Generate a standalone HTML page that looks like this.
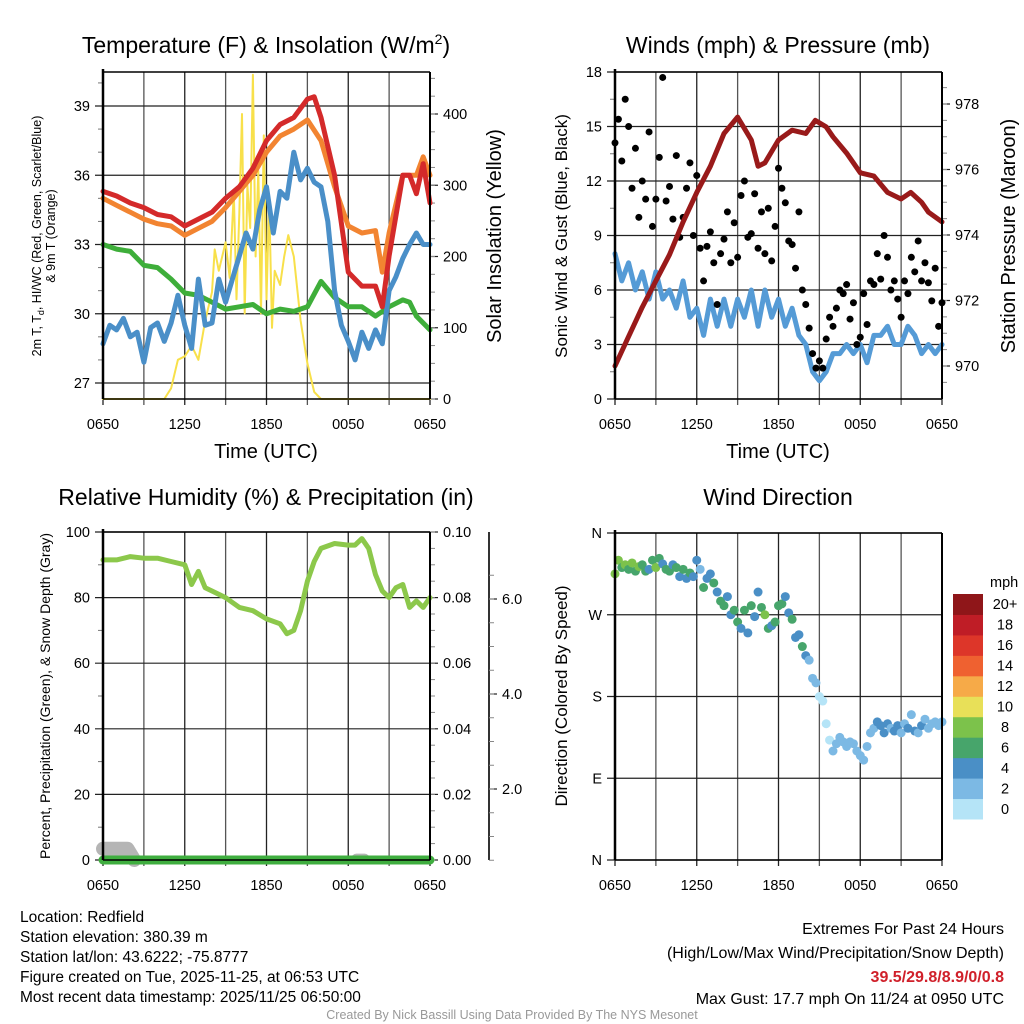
<!DOCTYPE html>
<html><head><meta charset="utf-8">
<style>
html,body{margin:0;padding:0;background:#fff;}
svg{display:block;font-family:"Liberation Sans",sans-serif;}
</style></head>
<body>
<svg id="chart" width="1024" height="1024" viewBox="0 0 1024 1024" xmlns="http://www.w3.org/2000/svg">
<rect width="1024" height="1024" fill="#fff"/>
<g id="g1"></g>
<g id="g2"></g>
<g id="g3"></g>
<g id="g4"></g>

<text x="266" y="53" font-size="23" text-anchor="middle">Temperature (F) &amp; Insolation (W/m<tspan font-size="14" dy="-9">2</tspan><tspan dy="9">)</tspan></text>
<text x="778" y="53" font-size="23" text-anchor="middle">Winds (mph) &amp; Pressure (mb)</text>
<text x="266" y="505" font-size="23" text-anchor="middle">Relative Humidity (%) &amp; Precipitation (in)</text>
<text x="778" y="505" font-size="23" text-anchor="middle">Wind Direction</text>

<text transform="translate(41,236) rotate(-90)" font-size="12.5" text-anchor="middle">2m T, T<tspan font-size="9" dy="3">d</tspan><tspan dy="-3">, HI/WC (Red, Green, Scarlet/Blue)</tspan></text>
<text transform="translate(55,236) rotate(-90)" font-size="12.5" text-anchor="middle">&amp; 9m T (Orange)</text>
<text transform="translate(501,236) rotate(-90)" font-size="20" text-anchor="middle">Solar Insolation (Yellow)</text>
<text transform="translate(567,236) rotate(-90)" font-size="17" text-anchor="middle">Sonic Wind &amp; Gust (Blue, Black)</text>
<text transform="translate(1015,236) rotate(-90)" font-size="20" text-anchor="middle">Station Pressure (Maroon)</text>
<text transform="translate(50,696) rotate(-90)" font-size="14" text-anchor="middle">Percent, Precipitation (Green), &amp; Snow Depth (Gray)</text>
<text transform="translate(567,696) rotate(-90)" font-size="17" text-anchor="middle">Direction (Colored By Speed)</text>
<text x="266" y="458" font-size="20" text-anchor="middle">Time (UTC)</text>
<text x="778" y="458" font-size="20" text-anchor="middle">Time (UTC)</text>

<g font-size="15.5">
<text x="20" y="922">Location: Redfield</text>
<text x="20" y="942">Station elevation: 380.39 m</text>
<text x="20" y="962">Station lat/lon: 43.6222; -75.8777</text>
<text x="20" y="982">Figure created on Tue, 2025-11-25, at 06:53 UTC</text>
<text x="20" y="1002">Most recent data timestamp: 2025/11/25 06:50:00</text>
</g>
<g font-size="16" text-anchor="end">
<text x="1004" y="934">Extremes For Past 24 Hours</text>
<text x="1004" y="958">(High/Low/Max Wind/Precipitation/Snow Depth)</text>
<text x="1004" y="982" fill="#d0202a" font-weight="bold">39.5/29.8/8.9/0/0.8</text>
<text x="1004" y="1004">Max Gust: 17.7 mph On 11/24 at 0950 UTC</text>
</g>
<text x="512" y="1019" font-size="12.5" fill="#999" text-anchor="middle">Created By Nick Bassill Using Data Provided By The NYS Mesonet</text>
</svg>
<script>
// ---- data ----
const xTickLabels = ["0650","1250","1850","0050","0650"];
const tempTicks = [27,30,33,36,39];
const solarTicks = [0,100,200,300,400];
const windTicks = [0,3,6,9,12,15,18];
const presTicks = [970,972,974,976,978];
const rhTicks = [0,20,40,60,80,100];
const precipTicks = ["0.00","0.02","0.04","0.06","0.08","0.10"];
const snowTicks = ["2.0","4.0","6.0"];
const dirTicks = ["N","E","S","W","N"];

const redT = [0,1,2,3,4,5,6,7,8,9,10,11,12,13,14,15,15.5,16,17,18,19,20,20.5,21,22,22.5,23,23.5,24];
const redV = [35.3,35.1,34.8,34.6,34.3,34.2,33.8,34.1,34.4,35.0,35.5,36.3,37.5,38.2,38.5,39.3,39.4,38.5,36.0,31.8,31.2,31.2,30.3,32.5,36.0,36.0,35.2,36.5,34.8];
const orangeT = [0,1,2,3,4,5,6,7,8,9,10,11,12,13,14,15,16,17,18,19,20,20.5,21,22,23,23.5,24];
const orangeV = [35.0,34.7,34.4,34.1,33.9,33.8,33.4,33.7,34.0,34.6,35.3,36.0,37.0,37.7,38.0,38.4,37.5,35.5,33.8,33.5,33.6,31.8,33.5,36.0,36.0,36.8,36.0];
const greenT = [0,1,2,3,4,5,6,7,8,9,10,11,12,13,14,15,16,17,18,19,20,21,22,22.5,23,24];
const greenV = [33.0,32.8,32.7,32.1,32.0,31.5,30.9,30.8,30.5,30.2,30.3,30.4,30.0,30.2,30.1,30.3,31.4,30.7,30.3,30.3,29.9,30.3,30.6,30.5,29.9,29.3];
const blueT = [0,0.5,1,1.5,2,2.5,3,3.5,4,4.5,5,5.5,6,6.5,7,7.5,8,8.5,9,9.5,10,10.5,11,11.5,12,12.5,13,13.5,14,14.5,15,15.5,16,16.5,17,17.5,18,18.5,19,19.5,20,20.5,21,21.5,22,22.5,23,23.5,24];
const blueV = [28.7,29.5,29.3,29.8,29.0,29.2,27.9,29.4,29.6,28.8,29.6,30.8,29.5,28.5,31.5,29.5,29.6,31.5,30.5,31.5,32.5,33.5,32.8,34.5,35.5,33.5,35.3,35.0,37.0,35.8,36.3,35.7,35.5,34.0,31.0,29.5,28.8,28.0,29.2,28.5,29.3,28.7,31.0,31.6,32.4,33.0,33.5,33.0,33.0];
const solarT = [0,4.5,5,5.5,6,6.5,7,7.5,8,8.2,8.5,9,9.3,9.6,9.8,10,10.2,10.4,10.6,10.8,11,11.2,11.4,11.6,11.8,12,12.2,12.4,12.6,13,13.3,13.6,14,14.5,15,15.5,16,24];
const solarV = [0,0,15,55,60,75,55,110,150,210,180,220,170,290,140,260,400,120,300,240,455,200,320,120,370,140,280,100,180,160,200,230,200,110,50,10,0,0];

const presT = [0,1,2,3,4,5,6,7,8,9,10,10.5,11,12,13,14,14.7,15.5,16,17,18,19,20,21,21.7,22.5,23,24];
const presV = [970.0,970.9,971.8,972.6,973.4,974.4,975.3,976.1,977.1,977.6,976.9,976.1,976.2,976.9,977.2,977.1,977.5,977.3,977.0,976.5,975.9,975.8,975.3,975.1,975.3,975.0,974.7,974.4];
const sonicV = [8.0,6.5,7.5,6.0,7.0,5.5,7.0,5.5,6.0,5.0,6.5,4.5,5.0,3.5,5.5,4.0,5.5,4.0,5.5,4.5,6.0,4.0,6.0,4.5,5.5,4.0,5.0,3.5,3.0,1.5,1.0,1.5,2.5,2.5,3.0,2.5,3.0,2.0,3.5,3.5,4.0,3.0,3.0,4.0,3.5,2.5,3.0,2.5,3.0];
const gustV = [14.1,15.4,13.1,16.5, 15.0,11.6,13.8,10.0, 12.0,11.0,14.7,9.5, 11.0,13.3,17.7,10.9, 11.7,9.9,13.4,8.9, 10.0,11.6,13.0,9.0, 12.3,8.3,6.5,8.4, 9.2,7.5,5.2,8.0, 8.8,10.3,7.5,9.7, 7.8,11.2,12.0,8.9, 9.1,11.3,8.3,10.3, 8.0,10.5,7.6,9.5, 12.7,11.6,10.8,8.7, 8.5,7.2,10.3,6.0, 5.2,3.9,2.5,1.7, 2.1,1.7,3.3,4.5, 4.0,5.0,6.0,5.8, 6.3,4.4,5.3,3.0, 3.4,5.8,4.1,6.5, 6.3,8.0,6.6,9.0, 7.8,6.0,6.5,5.5, 4.5,6.5,5.8,7.8, 7.0,8.7,6.5,7.5, 6.4,5.4,7.2,4.0, 5.3];

const rhT = [0,1,2,3,4,5,6,6.5,7,7.5,8,9,10,11,12,13,13.5,14,14.5,15,15.5,16,17,18,18.5,19,19.5,20,20.5,21,21.5,22,22.5,23,23.5,24];
const rhV = [91.5,91.5,92.5,92,92,91,90,84,88,83,82,80,77,76,73.5,72,69,70,76,85,91,95,96.5,96,96,98,95,87,82,80,83,84,77,79,77,80];
const snowT = [0,0.3,1.8,2.3];
const snowV = [0.8,0.8,0.8,0];
const precipV = [0,0];

const dirV = [315,330,322,325, 320,327,318,323, 325,318,320,330, 322,332,326,320, 318,325,322,312, 320,310,316,312, 330,320,300,310, 315,305,295,285, 280,290,270,275, 262,255,275,250, 280,268,295,278, 270,255,258,262, 280,282,290,272, 265,245,248,235, 225,220,200,195, 180,175,150,132, 120,128,135,130, 125,130,128,120, 115,110,125,140, 145,152,148,140, 150,145,142,148, 140,150,145,160, 142,140,148,155, 145,150,152,148, 152];
const spdV = [8,8.5,7.5,8, 7,8,6.5,8.2, 6.5,7,5.5,6.5, 8.5,7,5,6.5, 6.5,5,6.5,5.5, 6,5.5,7,4.5, 5,3.5,6.5,5, 4.5,6.5,5,6.5, 6.5,4.5,5.5,7, 6.5,4.5,6.5,5, 6.5,5,4.5,6.5, 8.5,6.5,5,6.5, 7,6.5,5,4.5, 6.5,4.5,4,6.5, 4.5,3.5,3,3, 1.5,1,1.5,1, 3,3,2.5,3.5, 3,2.5,3,2.5, 3,2.5,3.5,3, 3,4.5,4.5,4, 4.5,3,4.5,4.5, 3.5,3,4,3.5, 4.5,2.5,4.5,3, 3.5,3,2.5,3.5, 3];
const cbarLabels = ["0","2","4","6","8","10","12","14","16","18","20+"];
const cbarColors = ["#b5e4f7","#7cb9e4","#4a8fc6","#47a56b","#7cc24b","#e8e058","#f6aa48","#ef6130","#dd3629","#bf1d26","#8f1619"];

// ---- helpers ----
const NS="http://www.w3.org/2000/svg";
function mk(tag,attrs,parent){const e=document.createElementNS(NS,tag);for(const k in attrs)e.setAttribute(k,attrs[k]);parent.appendChild(e);return e;}
function lin(d0,d1,r0,r1){return v=>r0+(v-d0)*(r1-r0)/(d1-d0);}
function pathD(ts,vs,fx,fy){return ts.map((t,i)=>(i?"L":"M")+fx(t).toFixed(1)+","+fy(vs[i]).toFixed(1)).join("");}

function frame(g,L,R,T,B){
  const fx=lin(0,24,L,R);
  for(let h=0;h<=24;h+=3){
    const gl=mk("line",{x1:fx(h),x2:fx(h),y1:T,y2:B+6,stroke:h%6?"#555":"#222","stroke-width":1.3},g);
    
    
  }
  xTickLabels.forEach((s,i)=>{
    const t=mk("text",{x:fx(i*6),y:B+30,"font-size":14.5,"text-anchor":"middle"},g);t.textContent=s;
    
    
  });
  return fx;
}
function hgrid(g,L,R,fy,ticks,labels,minor){
  ticks.forEach((v,i)=>{
    const l=mk("line",{x1:L-8,x2:R,y1:fy(v),y2:fy(v),stroke:"#222","stroke-width":1.2},g);
    
    
    const t=mk("text",{x:L-13,y:fy(v)+5,"font-size":14.5,"text-anchor":"end"},g);t.textContent=labels?labels[i]:v;
    
    
  });
  if(minor) minor.forEach(v=>{mk("line",{x1:L-5,x2:L,y1:fy(v),y2:fy(v),stroke:"#777","stroke-width":1},g);});
}
function rightAxis(g,X,fy,ticks,labels,minorStep,lo,hi){
  ticks.forEach((v,i)=>{
    mk("line",{x1:X,x2:X+8,y1:fy(v),y2:fy(v),stroke:"#222","stroke-width":1.2},g);
    const t=mk("text",{x:X+13,y:fy(v)+5,"font-size":14.5},g);t.textContent=labels?labels[i]:v;
    
    
  });
  if(minorStep) for(let v=lo;v<=hi+1e-9;v+=minorStep) mk("line",{x1:X,x2:X+5,y1:fy(v),y2:fy(v),stroke:"#888","stroke-width":1},g);
}
function box(g,L,R,T,B){
  mk("line",{x1:L,x2:L,y1:T-3,y2:B,stroke:"#000","stroke-width":2.5},g);
  mk("line",{x1:R,x2:R,y1:T,y2:B,stroke:"#000","stroke-width":2},g);
  mk("line",{x1:L,x2:R,y1:T,y2:T,stroke:"#000","stroke-width":1.5},g);
  mk("line",{x1:L,x2:R,y1:B,y2:B,stroke:"#000","stroke-width":1.5},g);
}
function line(g,name,ts,vs,fx,fy,color,w){
  const p=mk("path",{d:pathD(ts,vs,fx,fy),fill:"none",stroke:color,"stroke-width":w,"stroke-linejoin":"round","stroke-linecap":"round"},g);
  
  
  return p;
}

// ---- panel 1 ----
(function(){
  const g=document.getElementById("g1"),L=103,R=430,T=72,B=399;
  const fx=frame(g,L,R,T,B);
  const fy=lin(27,39,383,106), fs=lin(0,400,399,114);
  hgrid(g,L,R,fy,tempTicks,null,[28,29,31,32,34,35,37,38,40]);
  rightAxis(g,R,fs,solarTicks,null,25,0,450);
  line(g,"solar-insolation-line",solarT,solarV,fx,fs,"#f8e04a",2);
  line(g,"dewpoint-line",greenT,greenV,fx,fy,"#3eae3a",5);
  line(g,"wind-chill-line",blueT,blueV,fx,fy,"#4a8fc8",5);
  line(g,"temp-9m-line",orangeT,orangeV,fx,fy,"#f28431",5);
  line(g,"temp-2m-line",redT,redV,fx,fy,"#d42a2a",5);
  box(g,L,R,T,B);
})();

// ---- panel 2 ----
(function(){
  const g=document.getElementById("g2"),L=615,R=942,T=72,B=399;
  const fx=frame(g,L,R,T,B);
  const fy=lin(0,18,399,72), fp=lin(970,978,366,104);
  hgrid(g,L,R,fy,windTicks,null,[1.5,4.5,7.5,10.5,13.5,16.5]);
  rightAxis(g,R,fp,presTicks,null,0.5,969.5,978.5);
  const st=sonicV.map((v,i)=>i*24/(sonicV.length-1));
  line(g,"sonic-wind-line",st,sonicV,fx,fy,"#559bd6",5);
  gustV.forEach((v,i)=>{
    const c=mk("circle",{cx:fx(i*24/(gustV.length-1)),cy:fy(v),r:3.5,fill:"#000"},g);
    
    
  });
  line(g,"pressure-line",presT,presV,fx,fp,"#991a1a",5);
  box(g,L,R,T,B);
})();

// ---- panel 3 ----
(function(){
  const g=document.getElementById("g3"),L=103,R=430,T=532,B=860;
  const fx=frame(g,L,R,T,B);
  const fy=lin(0,100,860,532);
  hgrid(g,L,R,fy,rhTicks,null,[10,30,50,70,90]);
  const fpr=lin(0,0.1,860,532);
  rightAxis(g,R,fpr,[0,0.02,0.04,0.06,0.08,0.1],precipTicks,0.005,0,0.1);
  const fsn=lin(2,6,789,599);
  mk("line",{x1:489,x2:489,y1:532,y2:860,stroke:"#333","stroke-width":2},g);
  rightAxis(g,489,fsn,[2,4,6],snowTicks,0.5,0.5,6.9);
  const fsd=lin(0,1,860,846);
  line(g,"snow-depth-line",snowT,snowV,fx,fsd,"#b5b5b5",14);
  line(g,"snow-depth-blip",[18.6,19.2],[0.1,0.1],fx,fsd,"#b5b5b5",10);
  line(g,"precipitation-line",[0,24],precipV,fx,fpr,"#3fae3f",9);
  line(g,"humidity-line",rhT,rhV,fx,fy,"#8cc84b",5);
  box(g,L,R,T,B);
})();

// ---- panel 4 ----
(function(){
  const g=document.getElementById("g4"),L=615,R=942,T=533,B=860;
  const fx=frame(g,L,R,T,B);
  const fy=lin(0,360,860,533);
  hgrid(g,L,R,fy,[0,90,180,270,360],dirTicks,null);
  dirV.forEach((d,i)=>{
    const b=Math.min(10,Math.floor(spdV[i]/2));
    const c=mk("circle",{cx:fx(i*24/(dirV.length-1)),cy:fy(d),r:4.5,fill:cbarColors[b]},g);
    
    
  });
  box(g,L,R,T,B);
  const cg=mk("g",{},document.getElementById("chart"));
  
  
  const cy0=819,ch=(819-594)/cbarColors.length;
  cbarColors.forEach((c,i)=>{
    mk("rect",{x:953,y:cy0-(i+1)*ch,width:30,height:ch+0.5,fill:c},cg);
    const t=mk("text",{x:1005,y:cy0-(i+0.5)*ch+5,"font-size":14.5,"text-anchor":"middle"},cg);t.textContent=cbarLabels[i];
    
    
  });
  const u=mk("text",{x:990,y:587,"font-size":14.5},cg);u.textContent="mph";
  
  
})();
</script>
</body></html>
